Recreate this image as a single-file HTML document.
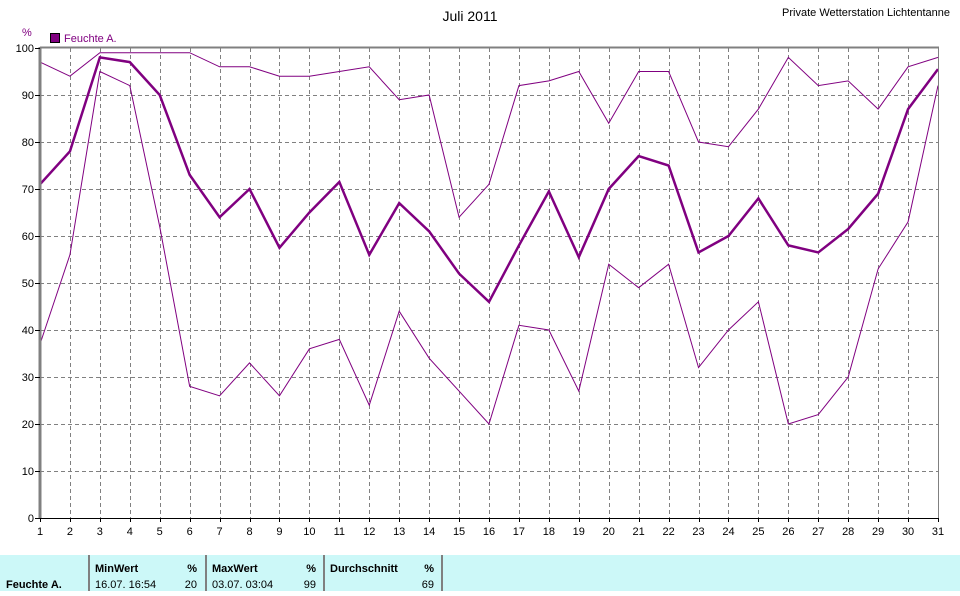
<!DOCTYPE html><html><head><style>body{margin:0;background:#fff;width:960px;height:591px;overflow:hidden;font-family:"Liberation Sans",sans-serif}</style></head><body>
<svg width="960" height="591" viewBox="0 0 960 591" xmlns="http://www.w3.org/2000/svg" font-family="Liberation Sans, sans-serif">
<rect width="960" height="591" fill="#fff"/>
<text x="470" y="21" font-size="14" text-anchor="middle">Juli 2011</text>
<text x="950" y="16" font-size="11" text-anchor="end">Private Wetterstation Lichtentanne</text>
<text x="22" y="36" font-size="11" fill="#800080">%</text>
<rect x="50.5" y="33.5" width="9" height="9" fill="#800080" stroke="#000"/>
<text x="64" y="42" font-size="11" fill="#800080">Feuchte A.</text>
<g id="grid" stroke="#808080" stroke-dasharray="4,3" stroke-width="1"></g>
<g id="lines" fill="none" stroke="#800080"></g>
<line x1="40" y1="47" x2="40" y2="519" stroke="#808080" stroke-width="3"/>
<line x1="39" y1="518.5" x2="939" y2="518.5" stroke="#000"/>
<line x1="938.5" y1="47" x2="938.5" y2="518" stroke="#808080"/>
<line x1="40" y1="47.5" x2="939" y2="47.5" stroke="#808080" stroke-width="2"/>
<g id="lab" font-size="11" fill="#000"></g>
<rect x="0" y="555" width="960" height="36" fill="#ccf8f8"/>
<g stroke="#808080" stroke-width="2"><line x1="89" y1="555" x2="89" y2="591"/><line x1="206" y1="555" x2="206" y2="591"/><line x1="324" y1="555" x2="324" y2="591"/><line x1="442" y1="555" x2="442" y2="591"/></g>
<g font-size="11" font-weight="bold"><text x="6" y="588">Feuchte A.</text><text x="95" y="572">MinWert</text><text x="212" y="572">MaxWert</text><text x="330" y="572">Durchschnitt</text><text x="197" y="572" text-anchor="end">%</text><text x="316" y="572" text-anchor="end">%</text><text x="434" y="572" text-anchor="end">%</text></g>
<g font-size="11"><text x="95" y="588">16.07.  16:54</text><text x="197" y="588" text-anchor="end">20</text><text x="212" y="588">03.07.  03:04</text><text x="316" y="588" text-anchor="end">99</text><text x="434" y="588" text-anchor="end">69</text></g>
</svg>
<script>
var ns="http://www.w3.org/2000/svg";
function X(d){return 40+(d-1)*898/30}function Y(v){return 518-v*4.7}
var g=document.getElementById('grid'),l=document.getElementById('lab'),L=document.getElementById('lines');
function el(p,t,a,txt){var e=document.createElementNS(ns,t);for(var k in a)e.setAttribute(k,a[k]);if(txt)e.textContent=txt;p.appendChild(e);}
for(var d=2;d<=30;d++)el(g,'line',{x1:Math.round(X(d))+.5,x2:Math.round(X(d))+.5,y1:48,y2:518});
for(var v=10;v<=90;v+=10)el(g,'line',{x1:40,x2:938,y1:Math.round(Y(v))+.5,y2:Math.round(Y(v))+.5});
for(var d=1;d<=31;d++){el(l,'text',{x:X(d),y:535,'text-anchor':'middle'},''+d);el(l,'line',{x1:Math.round(X(d))+.5,x2:Math.round(X(d))+.5,y1:518,y2:522,stroke:'#000'});}
for(var v=0;v<=100;v+=10){el(l,'text',{x:34,y:Y(v)+4,'text-anchor':'end'},''+v);el(l,'line',{x1:35,x2:40,y1:Math.round(Y(v))+.5,y2:Math.round(Y(v))+.5,stroke:'#000'});}
var mx=[97,94,99,99,99,99,96,96,94,94,95,96,89,90,64,71,92,93,95,84,95,95,80,79,87,98,92,93,87,96,98];
var av=[71,78,98,97,90,73,64,70,57.5,65,71.5,56,67,61,52,46,58,69.5,55.5,70,77,75,56.5,60,68,58,56.5,61.5,69,87,95.5];
var mn=[37,56,95,92,62,28,26,33,26,36,38,24,44,34,27,20,41,40,27,54,49,54,32,40,46,20,22,30,53,63,92];
function pl(a,w){el(L,'polyline',{points:a.map(function(v,i){return X(i+1)+','+Y(v)}).join(' '),'stroke-width':w});}
pl(mx,1);pl(mn,1);pl(av,2.5);
</script>
</body></html>
